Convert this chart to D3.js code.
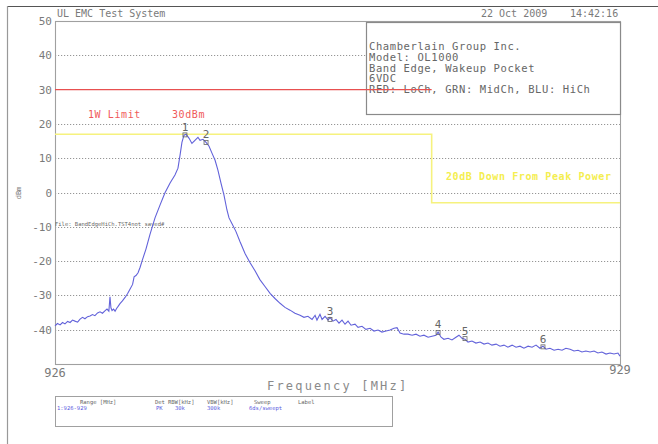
<!DOCTYPE html>
<html><head><meta charset="utf-8">
<script src="https://cdn.jsdelivr.net/npm/d3@7/dist/d3.min.js"></script>
<style>
html,body{margin:0;padding:0;background:#fff;}
svg{display:block;}
text{font-family:"DejaVu Sans Mono","Liberation Mono",monospace;}
</style></head><body>
<svg id="c" width="658" height="444"></svg>
<script>
// ---- data ----
const traceFreq = [926.000,926.013,926.027,926.040,926.053,926.067,926.080,926.093,926.106,926.120,926.133,926.146,926.159,926.173,926.186,926.199,926.212,926.226,926.239,926.252,926.265,926.276,926.286,926.292,926.297,926.303,926.311,926.319,926.327,926.335,926.345,926.358,926.372,926.385,926.398,926.412,926.420,926.430,926.441,926.452,926.462,926.483,
926.504,926.531,926.558,926.584,926.611,926.637,926.653,926.664,926.674,926.685,926.696,926.712,926.727,926.743,926.759,926.770,926.786,926.802,926.818,926.834,926.850,926.865,926.881,926.897,926.913,926.924,926.940,926.961,926.982,
927.009,927.035,927.062,927.088,927.115,927.142,927.168,927.195,927.221,927.248,927.274,927.301,927.322,927.343,927.365,927.381,927.391,927.407,927.418,927.434,927.450,927.460,927.476,927.492,927.508,927.524,927.540,927.556,927.572,927.593,927.609,927.630,927.651,927.673,927.694,927.715,927.736,927.758,927.779,927.800,927.816,927.832,927.853,927.874,927.896,927.917,927.938,927.959,927.981,
928.002,928.023,928.034,928.050,928.065,928.087,928.108,928.129,928.145,928.161,928.177,928.193,928.214,928.235,928.257,928.278,928.299,928.320,928.342,928.363,928.384,928.405,928.427,928.448,928.469,928.490,928.512,928.533,928.554,928.575,928.591,928.607,928.628,928.650,928.671,928.692,928.713,928.735,928.756,928.777,928.798,928.819,928.841,928.862,928.883,928.904,928.926,928.947,928.968,928.989,929.000];
const traceDbm = [-38.9,-38.2,-38.6,-37.9,-38.3,-37.6,-37.9,-37.2,-37.5,-37.8,-36.9,-36.4,-36.8,-36.2,-36.0,-35.6,-35.9,-35.1,-34.8,-35.2,-34.5,-34.0,-34.6,-30.4,-33.6,-34.4,-34.0,-34.6,-33.8,-33.2,-32.4,-31.6,-30.6,-29.5,-28.2,-26.8,-24.6,-24.2,-23.4,-21.8,-20.0,-16.5,
-12.3,-7.4,-3.6,-0.1,2.8,5.1,7.1,10.9,14.6,16.7,17.0,15.8,14.3,15.2,16.1,15.2,15.5,14.6,13.5,11.4,9.4,6.5,2.8,-0.7,-5.1,-7.4,-9.1,-11.4,-14.3,
-17.8,-20.4,-22.8,-25.4,-27.4,-29.4,-30.9,-32.3,-33.5,-34.3,-35.2,-35.8,-36.4,-36.1,-37.0,-35.8,-37.2,-35.5,-37.0,-36.1,-37.2,-36.4,-37.5,-37.0,-38.1,-37.2,-38.4,-37.5,-38.7,-38.4,-39.3,-39.0,-39.9,-39.6,-40.4,-40.1,-40.7,-40.4,-40.1,-39.6,-39.4,-41.0,-41.3,-41.3,-41.6,-41.3,-41.9,-41.6,-42.2,
-41.9,-41.6,-40.7,-42.2,-42.8,-42.5,-43.0,-42.2,-41.6,-42.5,-42.8,-43.6,-43.3,-43.9,-43.6,-44.2,-43.9,-44.5,-44.2,-44.8,-44.5,-45.1,-44.5,-45.1,-44.8,-45.4,-44.8,-45.1,-44.5,-45.4,-44.8,-45.7,-45.4,-46.0,-45.7,-46.0,-45.4,-45.7,-46.2,-46.0,-46.5,-46.2,-46.5,-46.2,-46.8,-46.5,-47.1,-46.8,-47.1,-46.8,-47.7];
const markerIds = ["1","2","3","4","5","6"];
const markerFreq = [926.690, 926.802, 927.460, 928.034, 928.177, 928.591];
const markerDbm = [16.8, 14.6, -37.0, -40.8, -42.6, -45.0];
const yTicks = [50,40,30,20,10,0,-10,-20,-30,-40];
const gridTicks = [40,20,10,0,-10,-20,-30,-40];
const xTickLabels = ["926","929"];
const limitDbm = 30;
const peakLineDbm = 17;
const downLineDbm = -3;
const maskEdgeFreq = 928.0;
const infoLines = ["Chamberlain Group Inc.","Model: OL1000","Band Edge, Wakeup Pocket","6VDC","RED: LoCh, GRN: MidCh, BLU: HiCh"];
const tableHeader = [["Range [MHz]",80],["Det",155],["RBW[kHz]",168],["VBW[kHz]",207],["Sweep",254],["Label",298]];
const tableRow = [["1:926-929",57],["PK",156],["30k",175],["300k",207],["6ds/sweept",249]];

// ---- layout ----
const svg = d3.select("#c");
const L=55, R=620, T=21, B=364;
const x = d3.scaleLinear().domain([926,929]).range([L,R]);
const y = d3.scaleLinear().domain([-50,50]).range([B,T]);
const dark="#7a7a7a";

// outer frame
svg.append("line").attr("x1",7).attr("x2",658).attr("y1",6.5).attr("y2",6.5).attr("stroke","#555").attr("stroke-width",1.2);
svg.append("line").attr("x1",7.5).attr("x2",7.5).attr("y1",6).attr("y2",444).attr("stroke","#999").attr("stroke-width",1.2);

// grid
svg.append("g").selectAll("line").data(gridTicks).join("line")
  .attr("x1",L).attr("x2",R).attr("y1",d=>Math.round(y(d))+0.5).attr("y2",d=>Math.round(y(d))+0.5)
  .attr("stroke","#8a8a8a").attr("stroke-width",0.9).attr("stroke-dasharray","1.2,1.8");

// plot frame
svg.append("rect").attr("x",L+0.5).attr("y",T+0.5).attr("width",R-L).attr("height",B-T)
  .attr("fill","none").attr("stroke","#a0a0a0").attr("stroke-width",1.1);

// y tick labels
svg.append("g").selectAll("text").data(yTicks).join("text")
  .attr("x",52).attr("y",d=>y(d)+4).attr("text-anchor","end").attr("font-size",11).attr("fill",dark).text(d=>d);

// x labels
svg.append("text").attr("x",x(926)).attr("y",377).attr("text-anchor","middle").attr("font-size",12).attr("fill",dark).text(xTickLabels[0]);
svg.append("text").attr("x",x(929)).attr("y",374).attr("text-anchor","middle").attr("font-size",12).attr("fill",dark).text(xTickLabels[1]);

// axis titles
svg.append("text").attr("x",267).attr("y",390).attr("font-size",12).attr("letter-spacing",2.2).attr("fill","#8a8a8a").text("Frequency [MHz]");
svg.append("text").attr("transform","translate(21,193) rotate(-90)").attr("text-anchor","middle").attr("font-size",7).attr("fill",dark).text("dBm");

// header texts
svg.append("text").attr("x",57).attr("y",17).attr("font-size",10).attr("fill",dark).text("UL EMC Test System");
svg.append("text").attr("x",481).attr("y",17).attr("font-size",10).attr("fill",dark).text("22 Oct 2009");
svg.append("text").attr("x",570).attr("y",17).attr("font-size",10).attr("fill",dark).text("14:42:16");

// info box
svg.append("rect").attr("x",366.5).attr("y",22.5).attr("width",R-366).attr("height",92)
  .attr("fill","#fff").attr("stroke","#8a8a8a").attr("stroke-width",1.2);
svg.append("g").selectAll("text").data(infoLines).join("text")
  .attr("x",369).attr("y",(d,i)=>50+i*10.8).attr("font-size",10.5).attr("letter-spacing",0.6).attr("fill","#666").text(d=>d);

// yellow mask
svg.append("path").attr("d",
  `M${x(926)},${y(peakLineDbm)}H${x(maskEdgeFreq)}V${y(downLineDbm)}H${x(929)}`)
  .attr("fill","none").attr("stroke","#f6f27e").attr("stroke-width",1.6);
svg.append("text").attr("x",446).attr("y",180).attr("font-size",10).attr("font-weight","bold").attr("letter-spacing",0.6).attr("fill","#f4ee50").text("20dB Down From Peak Power");

// red limit
svg.append("line").attr("x1",x(926)).attr("x2",x(maskEdgeFreq)).attr("y1",y(limitDbm)).attr("y2",y(limitDbm))
  .attr("stroke","#e85050").attr("stroke-width",1.1);
svg.append("text").attr("x",88).attr("y",118).attr("font-size",10).attr("letter-spacing",0.6).attr("fill","#f05a5a").text("1W Limit");
svg.append("text").attr("x",172).attr("y",118).attr("font-size",10).attr("letter-spacing",0.6).attr("fill","#f05a5a").text("30dBm");

// file label
svg.append("text").attr("x",55).attr("y",226).attr("font-size",5.5).attr("fill","#666").text("File: BandEdgeHiCh.TST4not saved#");

// trace
const pts = traceFreq.map((f,i)=>[f,traceDbm[i]]);
svg.append("path").datum(pts).attr("fill","none").attr("stroke","#6262da").attr("stroke-width",1.1)
  .attr("d",d3.line().x(d=>x(d[0])).y(d=>y(d[1])));

// markers
const mk = svg.append("g");
markerIds.forEach((id,i)=>{
  const mx=x(markerFreq[i]), my=y(markerDbm[i]);
  mk.append("rect").attr("x",mx-2).attr("y",my-2).attr("width",4).attr("height",4).attr("fill","none").attr("stroke","#666").attr("stroke-width",0.8);
  mk.append("text").attr("x",mx).attr("y",my-4).attr("text-anchor","middle").attr("font-size",11).attr("fill","#666").text(id);
});

// bottom table
svg.append("rect").attr("x",55.5).attr("y",396.5).attr("width",337).attr("height",30).attr("fill","none").attr("stroke","#a0a0a0");
svg.append("g").selectAll("text").data(tableHeader).join("text")
  .attr("x",d=>d[1]).attr("y",404).attr("font-size",5.5).attr("fill","#666").text(d=>d[0]);
svg.append("g").selectAll("text").data(tableRow).join("text")
  .attr("x",d=>d[1]).attr("y",410).attr("font-size",5.5).attr("fill","#5a5ae0").text(d=>d[0]);
</script></body></html>
